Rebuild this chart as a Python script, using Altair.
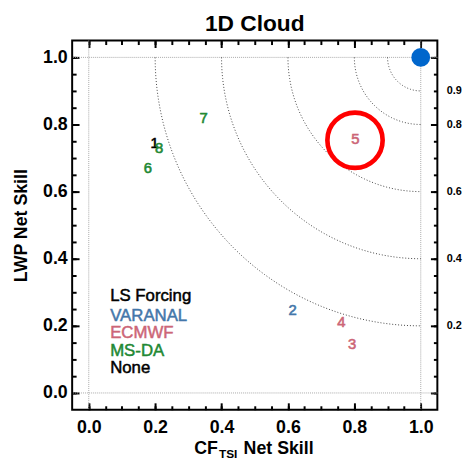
import altair as alt
import numpy as np
import pandas as pd

# ---------------- data ----------------
run_ids = ["1", "2", "3", "4", "5", "6", "7", "8"]
run_forcing = ["None", "VARANAL", "ECMWF", "ECMWF", "ECMWF", "MS-DA", "MS-DA", "MS-DA"]
cf_net_skill = [0.198, 0.614, 0.793, 0.761, 0.803, 0.178, 0.346, 0.212]
lwp_net_skill = [0.746, 0.246, 0.145, 0.211, 0.757, 0.670, 0.820, 0.731]

best_cf = [0.802]
best_lwp = [0.753]
perfect_cf = [1.0]
perfect_lwp = [1.0]

skill_levels = [0.9, 0.8, 0.6, 0.4, 0.2]
frame_lines = [0.0, 1.0]

forcing_names = ["VARANAL", "ECMWF", "MS-DA", "None"]
forcing_colors = ["#4477AA", "#CC6677", "#228833", "#000000"]
legend_title = "LS Forcing"
chart_title = "1D Cloud"

major_ticks = [0.0, 0.2, 0.4, 0.6, 0.8, 1.0]
minor_ticks = [round(0.05 * i, 2) for i in range(21)]

FONT = "Liberation Sans"
W, H = 370, 374

pts = pd.DataFrame({"run": run_ids, "forcing": run_forcing,
                    "cf": cf_net_skill, "lwp": lwp_net_skill})

# iso-skill contours: distance from the perfect point (1,1)
t = np.linspace(0, np.pi / 2, 91)
arc_rows = []
for lvl in skill_levels:
    r = 1 - lvl
    for i, ti in enumerate(t):
        arc_rows.append({"level": lvl, "i": i,
                         "x": 1 - r * np.cos(ti), "y": 1 - r * np.sin(ti)})
arc_df = pd.DataFrame(arc_rows)

xs = alt.Scale(domain=[-0.05, 1.05], nice=False, zero=False)
ys = alt.Scale(domain=[-0.05, 1.05], nice=False, zero=False)
cscale = alt.Scale(domain=forcing_names, range=forcing_colors)

vrules = alt.Chart(pd.DataFrame({"v": frame_lines})).mark_rule(
    strokeDash=[1, 1], color="#aaaaaa", strokeWidth=1
).encode(x=alt.X("v:Q", scale=xs, axis=None))

hrules = alt.Chart(pd.DataFrame({"v": frame_lines})).mark_rule(
    strokeDash=[1, 1], color="#aaaaaa", strokeWidth=1
).encode(y=alt.Y("v:Q", scale=ys, axis=None))

arcs = alt.Chart(arc_df).mark_line(
    strokeDash=[1, 2], color="#444444", strokeWidth=1
).encode(
    x=alt.X("x:Q", scale=xs, axis=None),
    y=alt.Y("y:Q", scale=ys, axis=None),
    detail="level:N",
    order="i:Q",
)

labels = alt.Chart(pts).mark_text(
    font=FONT, fontSize=15, align="center", baseline="middle", strokeWidth=0.6
).encode(
    x=alt.X("cf:Q", scale=xs, axis=None),
    y=alt.Y("lwp:Q", scale=ys, axis=None),
    text="run:N",
    color=alt.Color("forcing:N", scale=cscale, legend=None),
    stroke=alt.Stroke("forcing:N", scale=cscale, legend=None),
)

ring = alt.Chart(pd.DataFrame({"cf": best_cf, "lwp": best_lwp})).mark_point(
    shape="circle", filled=False, size=3136, strokeWidth=4.7, color="#ff0000", opacity=1
).encode(x=alt.X("cf:Q", scale=xs, axis=None), y=alt.Y("lwp:Q", scale=ys, axis=None))

dot = alt.Chart(pd.DataFrame({"cf": perfect_cf, "lwp": perfect_lwp})).mark_circle(
    size=361, color="#0066cc", opacity=1
).encode(x=alt.X("cf:Q", scale=xs, axis=None), y=alt.Y("lwp:Q", scale=ys, axis=None))

# legend text block
legend_lines = [legend_title] + forcing_names
legend_line_colors = ["#000000"] + forcing_colors
legend_baselines = [263.7, 284.3, 301.8, 319.2, 336.4]
legend_layers = []
for txt, col, yb in zip(legend_lines, legend_line_colors, legend_baselines):
    legend_layers.append(
        alt.Chart(pd.DataFrame({"t": [txt]})).mark_text(
            font=FONT, fontSize=17, align="left", baseline="alphabetic", color=col,
            stroke=col, strokeWidth=0.5
        ).encode(text="t:N", x=alt.value(38.5), y=alt.value(yb))
    )

# title and x title (with subscript)
text_parts = [(chart_title, 23, "center", W / 2, -9.7),
              ("CF", 18, "right", 147.7, 418.7),
              ("TSI", 12, "left", 148.7, 422.5),
              ("Net Skill", 18, "left", 173.7, 418.7)]
text_layers = []
for txt, fs, al, xp, yp in text_parts:
    text_layers.append(
        alt.Chart(pd.DataFrame({"t": [txt]})).mark_text(
            font=FONT, fontSize=fs, fontWeight="bold", align=al, baseline="alphabetic",
            color="black"
        ).encode(text="t:N", x=alt.value(xp), y=alt.value(yp))
    )

# axes (inward ticks via negative offset)
axis_common = dict(domain=False, grid=False, tickColor="black", tickWidth=2,
                   labelFont=FONT, labelColor="black")


def axis_layer(channel, values, **kw):
    df = pd.DataFrame({"v": [0.0, 1.0]})
    ax = alt.Axis(values=values, **axis_common, **kw)
    if channel == "x":
        enc = dict(x=alt.X("v:Q", scale=xs, axis=ax))
    else:
        enc = dict(y=alt.Y("v:Q", scale=ys, axis=ax))
    return alt.Chart(df).mark_point(opacity=0).encode(**enc)


axes = [
    axis_layer("x", major_ticks, orient="bottom", tickSize=7, offset=-7, labels=True,
               labelFontSize=18, labelFontWeight="bold", labelPadding=9, format=".1f",
               labelFlush=False, title=None),
    axis_layer("x", minor_ticks, orient="bottom", tickSize=4, offset=-4, labels=False, title=None),
    axis_layer("x", major_ticks, orient="top", tickSize=7, offset=-7, labels=False, title=None),
    axis_layer("x", minor_ticks, orient="top", tickSize=4, offset=-4, labels=False, title=None),
    axis_layer("y", major_ticks, orient="left", tickSize=7, offset=-7, labels=True,
               labelFontSize=18, labelFontWeight="bold", labelPadding=5, format=".1f",
               labelFlush=False, title="LWP Net Skill", titleFont=FONT, titleFontSize=18,
               titleFontWeight="bold", titleColor="black", titlePadding=12),
    axis_layer("y", minor_ticks, orient="left", tickSize=4, offset=-4, labels=False, title=None),
    axis_layer("y", major_ticks, orient="right", tickSize=7, offset=-7, labels=False, title=None),
    axis_layer("y", minor_ticks, orient="right", tickSize=4, offset=-4, labels=False, title=None),
    axis_layer("y", skill_levels, orient="right", ticks=False, tickSize=0, labels=True,
               labelFontSize=11, labelFontWeight="bold", labelPadding=9, format=".1f",
               labelFlush=False, labelOverlap=False, title=None),
]

chart = alt.layer(
    vrules, hrules, arcs, labels, ring, dot, *legend_layers, *text_layers, *axes
).resolve_axis(
    x="independent", y="independent"
).properties(
    width=W, height=H,
    autosize=alt.AutoSizeParams(type="none"),
    padding={"left": 65, "top": 30, "right": 27, "bottom": 56},
).configure_view(stroke="black", strokeWidth=2)

chart.save("out.html", embed_options={"renderer": "svg", "actions": False})
